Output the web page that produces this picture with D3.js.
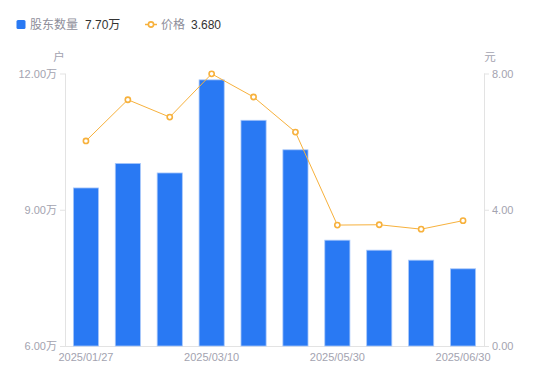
<!DOCTYPE html>
<html><head><meta charset="utf-8">
<script src="https://cdn.jsdelivr.net/npm/d3@7"></script>
<style>body{margin:0;background:#fff;font-family:"Liberation Sans","Noto Sans CJK SC",sans-serif}</style>
</head><body><svg id="c" width="550" height="381"></svg>
<script>
const categories = ["2025/01/27","2025/02/14","2025/02/28","2025/03/10","2025/03/31","2025/04/30","2025/05/30","2025/06/10","2025/06/20","2025/06/30"];
const holders = [9.48, 10.02, 9.81, 11.86, 10.97, 10.32, 8.33, 8.11, 7.89, 7.70];
const prices = [6.02, 7.23, 6.72, 7.99, 7.31, 6.28, 3.55, 3.56, 3.43, 3.68];
const leftTicks = [6, 9, 12];
const rightTicks = [0, 4, 8];
const shownLabels = ["2025/01/27","2025/03/10","2025/05/30","2025/06/30"];

const svg = d3.select("#c");
const L = 65, R = 484, T = 73.5, B = 346;
const font = '"Liberation Sans","Noto Sans CJK SC",sans-serif';
const gray = "#a3a3b0", axisCol = "#e3e3e3";
const blue = "#2979f3", orange = "#f7b13c";

const x = d3.scaleBand().domain(categories).range([L, R]).paddingInner(0.4).paddingOuter(0.2);
const yL = d3.scaleLinear().domain([6, 12]).range([B, T]);
const yR = d3.scaleLinear().domain([0, 8]).range([B, T]);

// axes
const ax = svg.append("g").attr("transform", `translate(${L},0)`)
  .call(d3.axisLeft(yL).tickValues(leftTicks).tickSize(5).tickPadding(3).tickFormat(d => d3.format(".2f")(d) + "万"));
const ar = svg.append("g").attr("transform", `translate(${R},0)`)
  .call(d3.axisRight(yR).tickValues(rightTicks).tickSize(5).tickPadding(3).tickFormat(d3.format(".2f")));
const ab = svg.append("g").attr("transform", `translate(0,${B})`)
  .call(d3.axisBottom(x).tickValues(shownLabels).tickSize(0).tickPadding(7));
ab.select(".domain").attr("d", `M${L},0.5H${R}`);
[ax, ar, ab].forEach(g => {
  g.selectAll(".domain").attr("stroke", axisCol);
  g.selectAll(".tick line").attr("stroke", axisCol);
  g.selectAll("text").attr("fill", gray).attr("font-size", 11).attr("font-family", font);
});
ax.select(".domain").attr("d", `M0.5,${T}V${B}`);
ar.select(".domain").attr("d", `M0.5,${T}V${B}`);

svg.append("text").attr("x", 59).attr("y", 61).attr("text-anchor", "middle").attr("fill", gray)
  .attr("font-size", 11.5).attr("font-family", font).text("户");
svg.append("text").attr("x", 490).attr("y", 61).attr("text-anchor", "middle").attr("fill", gray)
  .attr("font-size", 11.5).attr("font-family", font).text("元");

// bars
svg.append("g").selectAll("rect").data(holders).join("rect")
  .attr("x", (d, i) => x(categories[i]))
  .attr("width", x.bandwidth())
  .attr("y", d => yL(d))
  .attr("height", d => B - yL(d))
  .attr("fill", blue).attr("stroke", "#a9c8fa").attr("stroke-width", 0.8);

// line
const line = d3.line().x((d, i) => x(categories[i]) + x.bandwidth() / 2).y(d => yR(d));
svg.append("path").datum(prices).attr("d", line).attr("fill", "none").attr("stroke", orange).attr("stroke-width", 1);
svg.append("g").selectAll("circle").data(prices).join("circle")
  .attr("cx", (d, i) => x(categories[i]) + x.bandwidth() / 2)
  .attr("cy", d => yR(d)).attr("r", 2.6)
  .attr("fill", "#fff").attr("stroke", orange).attr("stroke-width", 1.6);

// legend
const lg = svg.append("g").attr("font-family", font).attr("font-size", 12);
lg.append("rect").attr("x", 16.5).attr("y", 20).attr("width", 9).attr("height", 9).attr("rx", 1.5).attr("fill", blue);
lg.append("text").attr("x", 30).attr("y", 29).attr("fill", "#8e8e9a").text("股东数量");
lg.append("text").attr("x", 85).attr("y", 29).attr("fill", "#333").text(d3.format(".2f")(holders[holders.length - 1]) + "万");
lg.append("line").attr("x1", 145).attr("x2", 157).attr("y1", 24.5).attr("y2", 24.5).attr("stroke", orange).attr("stroke-width", 1.5);
lg.append("circle").attr("cx", 151).attr("cy", 24.5).attr("r", 2.6).attr("fill", "#fff").attr("stroke", orange).attr("stroke-width", 1.6);
lg.append("text").attr("x", 161).attr("y", 29).attr("fill", "#8e8e9a").text("价格");
lg.append("text").attr("x", 191).attr("y", 29).attr("fill", "#333").text(d3.format(".3f")(prices[prices.length - 1]));
</script></body></html>
